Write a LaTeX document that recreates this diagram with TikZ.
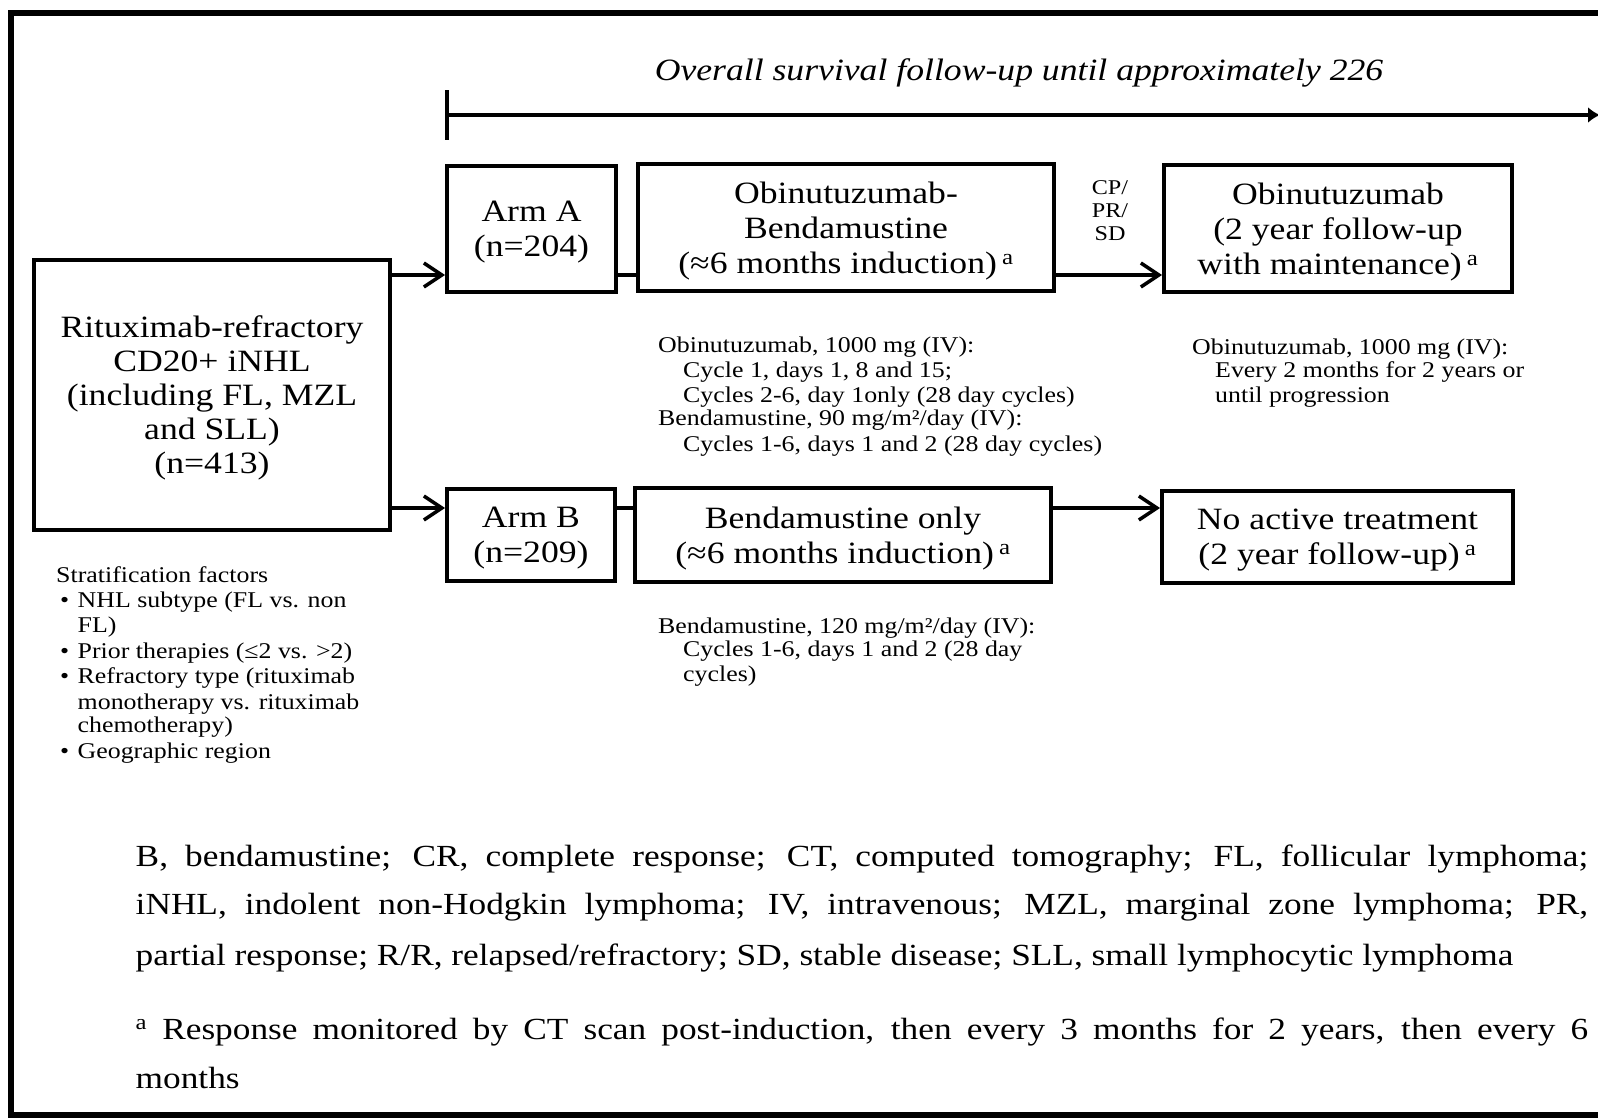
\documentclass[tikz,border=0pt]{standalone}
\usepackage{fontspec}
\setmainfont{Liberation Serif}[FakeStretch=1.15]
\usetikzlibrary{arrows.meta}
\begin{document}
\begin{tikzpicture}[x=1pt,y=-1pt,
  boxn/.style={draw, line width=4pt, align=center, inner sep=0pt, text depth=0pt,
    font=\fontsize{31}{35}\selectfont},
  notel/.style={anchor=base west, inner sep=0pt, font=\fontsize{22.5}{24}\selectfont},
  footl/.style={anchor=base west, inner sep=0pt, font=\fontsize{30.7}{49}\selectfont},
  conn/.style={line width=3.5pt},
  arr/.style={line width=3.5pt, -{Straight Barb[length=18pt,width=24pt,line width=3.5pt]}}]
\useasboundingbox (0,0) rectangle (1598,1118);
\fill[white] (0,0) rectangle (1598,1118);
% frame
\draw[line width=5.5pt] (1600,13) -- (11,13) -- (11,1115) -- (1600,1115);
% timeline
\node[anchor=base, inner sep=0pt, font=\itshape\fontsize{31}{35}\selectfont] (title) at (1019,81) {Overall survival follow-up until approximately 226};
\coordinate (tlS) at (445,115);
\coordinate (tlE) at (1600,115);
\draw[line width=3.5pt, {Bar[width=50pt,line width=3.5pt]}-{Latex[length=12pt,width=16pt]}] (tlS) -- (tlE);
% boxes
\node[boxn, minimum width=356pt, minimum height=270pt, font=\fontsize{31}{34}\selectfont] (rit) at (212,395)
  {Rituximab-refractory\\CD20+ iNHL\\(including FL, MZL\\and SLL)\\(n=413)};
\node[boxn, minimum width=169pt, minimum height=126pt] (armA) at (531.5,229) {Arm A\\(n=204)};
\node[boxn, minimum width=416pt, minimum height=127pt] (ob) at (846,227.5)
  {Obinutuzumab-\\Bendamustine\\(≈6 months induction)\,\textsuperscript{a}};
\node[boxn, minimum width=348pt, minimum height=127pt] (mt) at (1338,228.5)
  {Obinutuzumab\\(2 year follow-up\\with maintenance)\,\textsuperscript{a}};
\node[boxn, minimum width=168pt, minimum height=92pt] (armB) at (531,535) {Arm B\\(n=209)};
\node[boxn, minimum width=416pt, minimum height=94pt] (bo) at (843,535)
  {Bendamustine only\\(≈6 months induction)\,\textsuperscript{a}};
\node[boxn, minimum width=351pt, minimum height=92pt] (na) at (1337.5,537)
  {No active treatment\\(2 year follow-up)\,\textsuperscript{a}};
% connectors
\coordinate (ya) at (0,275);
\coordinate (yb) at (0,508);
\draw[arr] (rit.east |- ya) -- (armA.west |- ya);
\draw[conn] (armA.east |- ya) -- (ob.west |- ya);
\draw[arr] (ob.east |- ya) -- (mt.west |- ya);
\draw[arr] (rit.east |- yb) -- (armB.west |- yb);
\draw[conn] (armB.east |- yb) -- (bo.west |- yb);
\draw[arr] (bo.east |- yb) -- (na.west |- yb);
\node[inner sep=0pt, align=center, font=\fontsize{21}{23}\selectfont] (resp) at (1110,211) {CP/\\PR/\\SD};
% notes arm A
\node[notel] (nA1) at (658,352) {Obinutuzumab, 1000 mg (IV):};
\node[notel] (nA2) at (683,377) {Cycle 1, days 1, 8 and 15;};
\node[notel] (nA3) at (683,402) {Cycles 2-6, day 1only (28 day cycles)};
\node[notel] (nA4) at (658,425) {Bendamustine, 90 mg/m²/day (IV):};
\node[notel] (nA5) at (683,451) {Cycles 1-6, days 1 and 2 (28 day cycles)};
% notes maintenance
\node[notel] (nM1) at (1192,354) {Obinutuzumab, 1000 mg (IV):};
\node[notel] (nM2) at (1215,377) {Every 2 months for 2 years or};
\node[notel] (nM3) at (1215,402) {until progression};
% notes arm B
\node[notel] (nB1) at (658,633) {Bendamustine, 120 mg/m²/day (IV):};
\node[notel] (nB2) at (683,656) {Cycles 1-6, days 1 and 2 (28 day};
\node[notel] (nB3) at (683,681) {cycles)};
% stratification
\node[notel] (s0) at (56,582) {Stratification factors};
\node[notel] (s1) at (60,607) {\makebox[17.5pt][l]{•}NHL subtype (FL vs. non};
\node[notel] (s2) at (77.5,632) {FL)};
\node[notel] (s3) at (60,658) {\makebox[17.5pt][l]{•}Prior therapies (≤2 vs. >2)};
\node[notel] (s4) at (60,683) {\makebox[17.5pt][l]{•}Refractory type (rituximab};
\node[notel] (s5) at (77.5,709) {monotherapy vs. rituximab};
\node[notel] (s6) at (77.5,732) {chemotherapy)};
\node[notel] (s7) at (60,758) {\makebox[17.5pt][l]{•}Geographic region};
% footer
\node[footl] (f1) at (135.5,866) {\makebox[1452.5pt][s]{B, bendamustine; CR, complete response; CT, computed tomography; FL, follicular lymphoma;}};
\node[footl] (f2) at (135.5,914) {\makebox[1452.5pt][s]{iNHL, indolent non-Hodgkin lymphoma; IV, intravenous; MZL, marginal zone lymphoma; PR,}};
\node[footl] (f3) at (135.5,965) {partial response; R/R, relapsed/refractory; SD, stable disease; SLL, small lymphocytic lymphoma};
\node[footl] (f4) at (135.5,1039) {\makebox[1452.5pt][s]{\textsuperscript{a} Response monitored by CT scan post-induction, then every 3 months for 2 years, then every 6}};
\node[footl] (f5) at (135.5,1088) {months};
\end{tikzpicture}
\end{document}
